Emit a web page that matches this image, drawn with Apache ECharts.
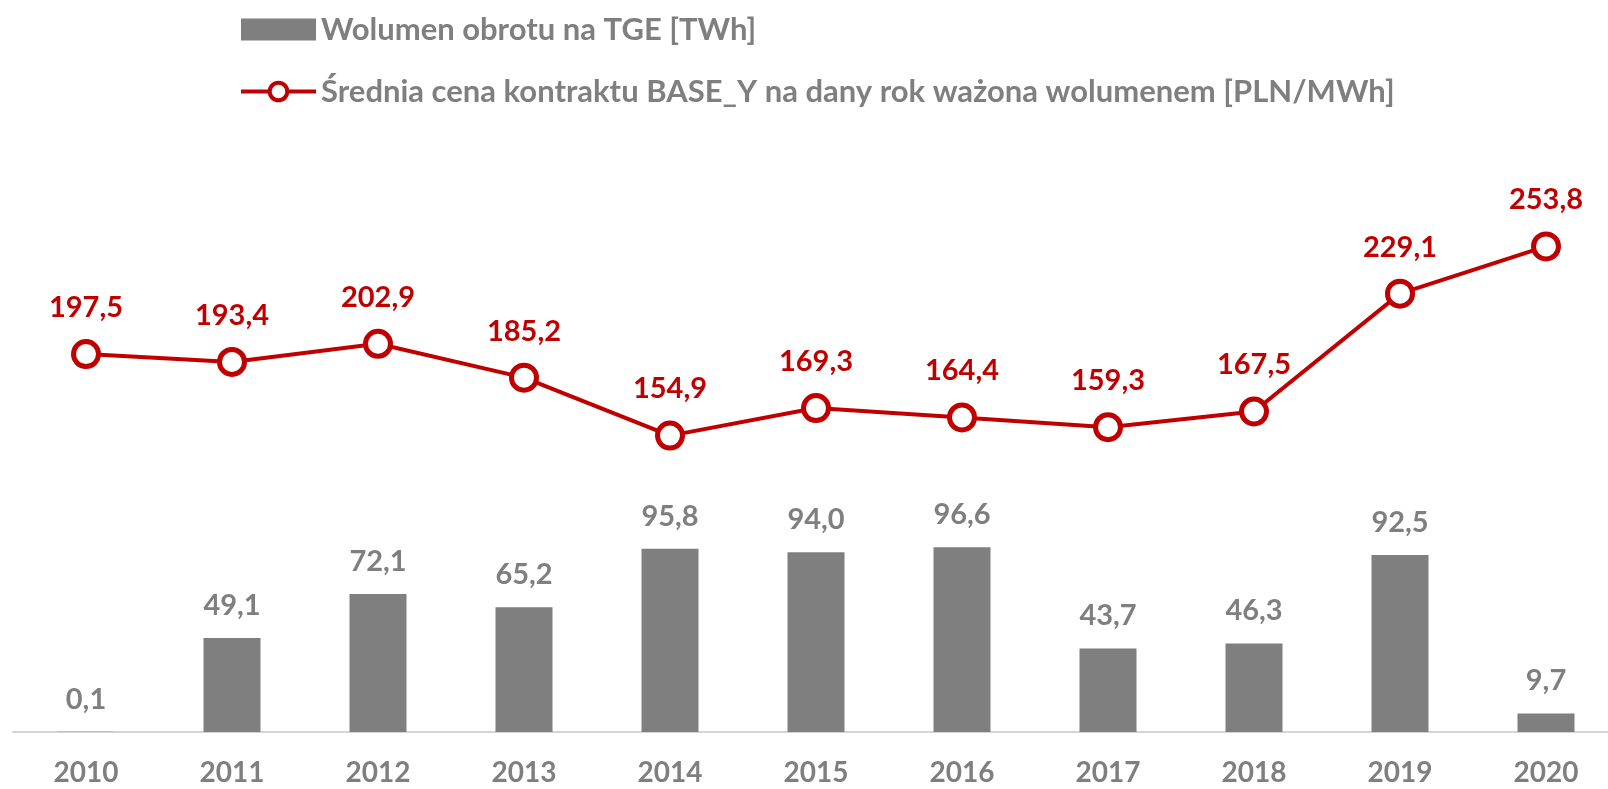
<!DOCTYPE html>
<html>
<head>
<meta charset="utf-8">
<script src="https://cdn.jsdelivr.net/npm/echarts@6/dist/echarts.min.js"></script>
<style>
html,body{margin:0;padding:0;background:#fff;}
#chart{width:1608px;height:789px;}
</style>
</head>
<body>
<div id="chart"></div>
<script>
const years = ['2010','2011','2012','2013','2014','2015','2016','2017','2018','2019','2020'];
const volume = [0.1, 49.1, 72.1, 65.2, 95.8, 94.0, 96.6, 43.7, 46.3, 92.5, 9.7];
const price = [197.5, 193.4, 202.9, 185.2, 154.9, 169.3, 164.4, 159.3, 167.5, 229.1, 253.8];
const seriesNames = ['Wolumen obrotu na TGE [TWh]', 'Średnia cena kontraktu BASE_Y na dany rok ważona wolumenem [PLN/MWh]'];

const fmt = p => p.value.toFixed(1).replace('.', ',');
const FONT = 'Lato';
const GRAY = '#7f7f7f';
const RED = '#c00000';

const chart = echarts.init(document.getElementById('chart'));
chart.setOption({
  backgroundColor: '#fff',
  animation: false,
  legend: {
    orient: 'vertical',
    left: 234,
    top: 9,
    itemWidth: 75,
    itemHeight: 22,
    itemGap: 31,
    lineStyle: { width: 4 },
    textStyle: { fontFamily: FONT, fontWeight: 'bold', fontSize: 31, color: GRAY },
    data: [
      { name: seriesNames[0], icon: 'rect' },
      { name: seriesNames[1], itemStyle: { borderWidth: 4, borderColor: RED, color: '#fff' } }
    ]
  },
  grid: { left: 13, width: 1606, top: 158, bottom: 57, outerBoundsMode: 'none', containLabel: false },
  xAxis: {
    type: 'category',
    data: years,
    boundaryGap: true,
    axisLine: { lineStyle: { color: '#d4d4d4', width: 2 } },
    axisTick: { show: false },
    axisLabel: { margin: 27, fontFamily: FONT, fontWeight: 'bold', fontSize: 28, color: GRAY }
  },
  yAxis: {
    type: 'value', min: 0, max: 300, show: false,
    splitLine: { show: false }
  },
  series: [
    {
      name: seriesNames[0],
      type: 'bar',
      data: volume,
      barWidth: 57,
      itemStyle: { color: GRAY },
      label: {
        show: true, position: 'top', distance: 18, formatter: fmt,
        fontFamily: FONT, fontWeight: 'bold', fontSize: 29, color: GRAY
      }
    },
    {
      name: seriesNames[1],
      type: 'line',
      data: price,
      symbol: 'circle',
      symbolSize: 25,
      lineStyle: { color: RED, width: 4 },
      itemStyle: { color: '#fff', borderColor: RED, borderWidth: 5 },
      label: {
        show: true, position: 'top', distance: 17, formatter: fmt,
        fontFamily: FONT, fontWeight: 'bold', fontSize: 29, color: RED
      },
      z: 3
    }
  ]
});
</script>
</body>
</html>
